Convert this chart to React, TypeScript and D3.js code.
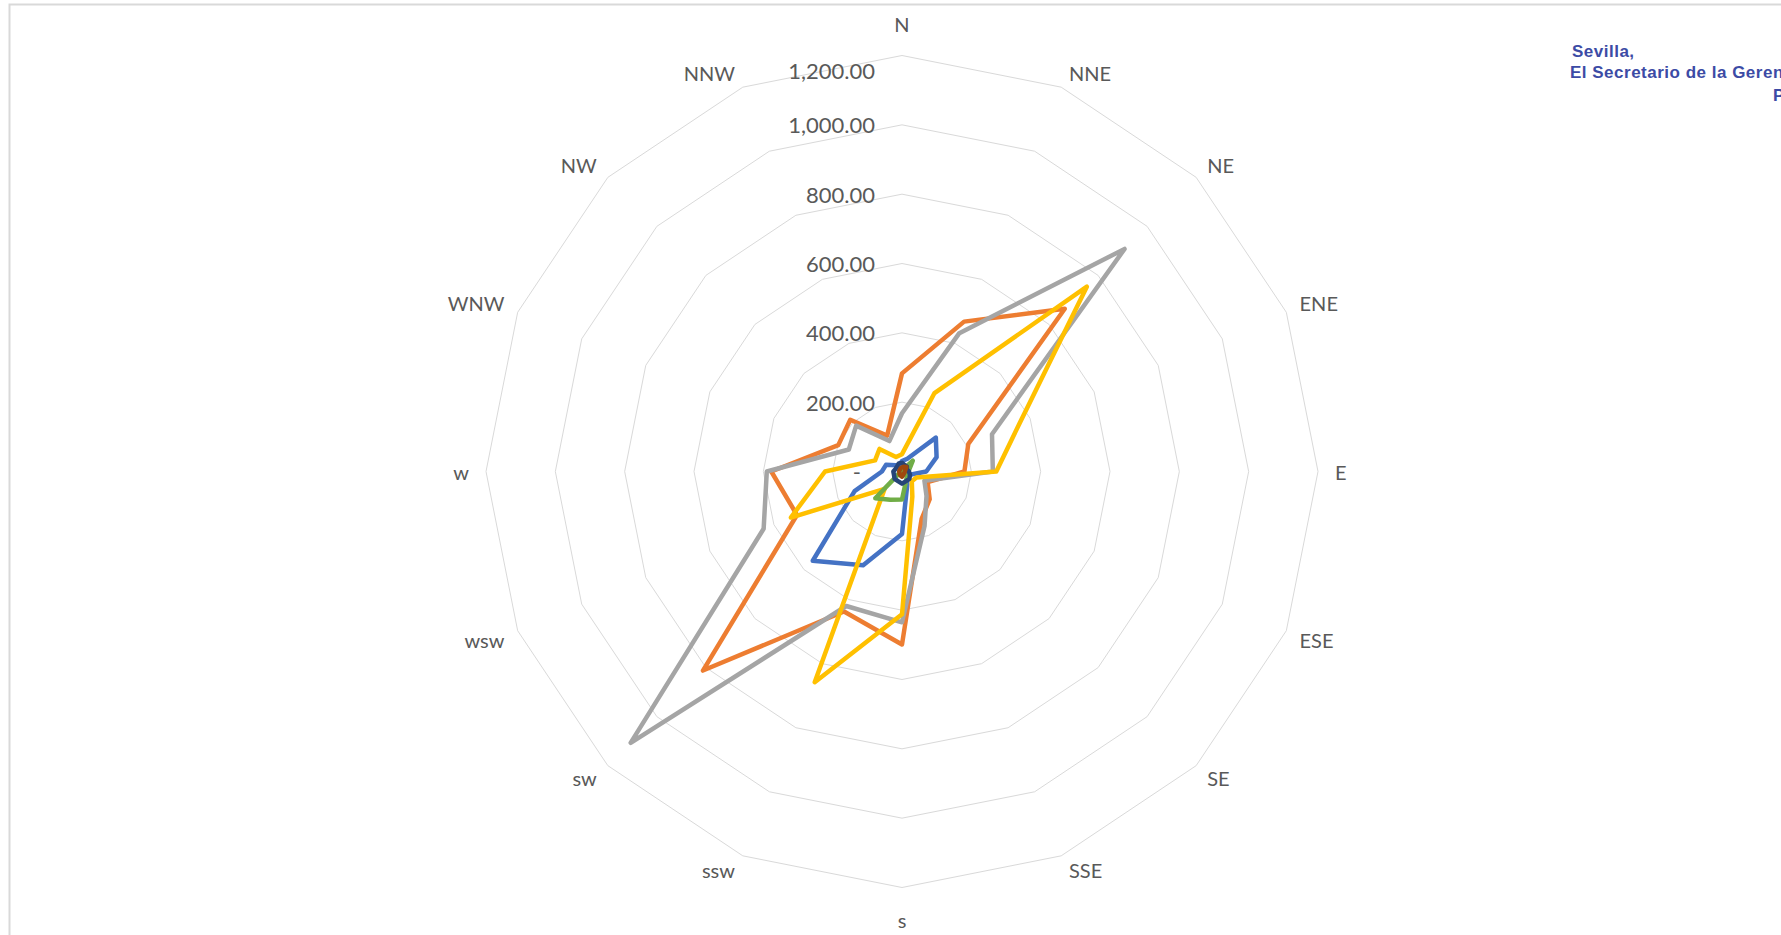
import React from "react";
import * as d3 from "d3";

const directions = ["N", "NNE", "NE", "ENE", "E", "ESE", "SE", "SSE", "s", "ssw", "sw", "wsw", "w", "WNW", "NW", "NNW"];
const tickValues = [200, 400, 600, 800, 1000, 1200];
const tickLabels = ["200.00", "400.00", "600.00", "800.00", "1,000.00", "1,200.00"];
const zeroLabel = "-";

// values per direction, in order N, NNE, NE, ... NNW
const seriesBlue = [30, 40, 138, 108, 70, 25, 20, 40, 180, 293, 364, 148, 58, 50, 25, 20];
const seriesOrange = [283, 468, 664, 207, 180, 80, 113, 148, 499, 437, 812, 328, 377, 199, 211, 112];
const seriesGray = [168, 432, 908, 281, 262, 70, 100, 170, 435, 420, 1107, 432, 390, 166, 187, 95];
const seriesYellow = [50, 245, 754, 368, 272, 45, 40, 78, 412, 658, 71, 347, 222, 84, 92, 45];
const seriesLightBlue = [10, 12, 12, 10, 10, 8, 8, 10, 12, 12, 12, 10, 8, 8, 8, 8];
const seriesGreen = [3, 5, 44, 24, 19, 19, 21, 30, 81, 88, 109, 5, 3, 2, 2, 2];
const seriesDarkBlue = [25, 20, 20, 15, 20, 25, 30, 30, 35, 30, 30, 25, 25, 20, 20, 25];
const seriesBrown = [12, 15, 18, 10, 8, 8, 8, 10, 15, 12, 10, 8, 8, 8, 8, 10];

const series = [
  { values: seriesBlue, color: "#4472C4" },
  { values: seriesOrange, color: "#ED7D31" },
  { values: seriesGray, color: "#A5A5A5" },
  { values: seriesYellow, color: "#FFC000" },
  { values: seriesLightBlue, color: "#5B9BD5" },
  { values: seriesGreen, color: "#70AD47" },
  { values: seriesDarkBlue, color: "#264478" },
  { values: seriesBrown, color: "#9E480E" },
];

const W = 1781;
const H = 935;
const cx = 902;
const cy = 471.5;
const R = 416;
const font = "Lato, 'Open Sans', sans-serif";
const labelFont = 20;

function measure(text: string, size: number): number {
  if (typeof document === "undefined") return text.length * size * 0.6;
  const c = document.createElement("canvas");
  const ctx = c.getContext("2d");
  if (!ctx) return text.length * size * 0.6;
  ctx.font = `${size}px Lato`;
  return ctx.measureText(text).width;
}

export default function App() {
  const maxTick = tickValues[tickValues.length - 1];
  const r = d3.scaleLinear().domain([0, maxTick]).range([0, R]);
  const angle = d3.scaleLinear().domain([0, directions.length]).range([0, 2 * Math.PI]);

  const radial = d3
    .lineRadial<number>()
    .angle((_, i) => angle(i))
    .radius((d) => r(d))
    .curve(d3.curveLinearClosed);

  const ringLine = (v: number) => radial(directions.map(() => v)) as string;

  const labelPos = (d: string, i: number) => {
    const a = angle(i);
    const ux = Math.sin(a);
    const uy = -Math.cos(a);
    const w = measure(d, labelFont);
    if (Math.abs(ux) < 0.1) {
      return { x: 0, y: uy * (R + 32) };
    }
    if (Math.abs(uy) < 0.1) {
      return { x: ux * (R + 17 + w / 2), y: 0 };
    }
    const px = ux * (R + 10);
    const py = uy * (R + 10);
    return { x: px + Math.sign(ux) * (w / 2 + 4), y: py + Math.sign(uy) * 5 };
  };

  return (
    <>
      <style>{`body{margin:0;overflow:hidden}`}</style>
      <svg width={W} height={H} style={{ display: "block", background: "#fff" }}>
        <rect x={9.5} y={4.5} width={3000} height={3000} fill="#fff" stroke="#D9D9D9" strokeWidth={2} />
        <g transform={`translate(${cx},${cy})`}>
          {tickValues.map((t) => (
            <path key={t} d={ringLine(t)} fill="none" stroke="#D9D9D9" strokeWidth={1} />
          ))}
          {series.map((s, si) => (
            <path
              key={si}
              d={radial(s.values) as string}
              fill="none"
              stroke={s.color}
              strokeWidth={4.5}
              strokeLinejoin="round"
            />
          ))}
          {tickValues.map((t, i) => (
            <text
              key={t}
              x={-27}
              y={-r(t) + (t === maxTick ? 15 : 0)}
              textAnchor="end"
              dominantBaseline="central"
              fontFamily={font}
              fontSize={22}
              fill="#595959"
            >
              {tickLabels[i]}
            </text>
          ))}
          <text
            x={-41}
            y={0}
            textAnchor="end"
            dominantBaseline="central"
            fontFamily={font}
            fontSize={22}
            fill="#595959"
          >
            {zeroLabel}
          </text>
          {directions.map((d, i) => {
            const p = labelPos(d, i);
            return (
              <text
                key={d}
                x={p.x}
                y={p.y}
                textAnchor="middle"
                dominantBaseline="central"
                fontFamily={font}
                fontSize={labelFont}
                fill="#595959"
              >
                {d}
              </text>
            );
          })}
        </g>
        <g fontFamily="'Liberation Sans', Arial, sans-serif" fontWeight="bold" fontSize={17} fill="#3C4BA5" letterSpacing={0.5}>
          <text x={1572} y={57}>Sevilla,</text>
          <text x={1570} y={78}>El Secretario de la Gerencia</text>
          <text x={1773} y={101}>P</text>
        </g>
      </svg>
    </>
  );
}
